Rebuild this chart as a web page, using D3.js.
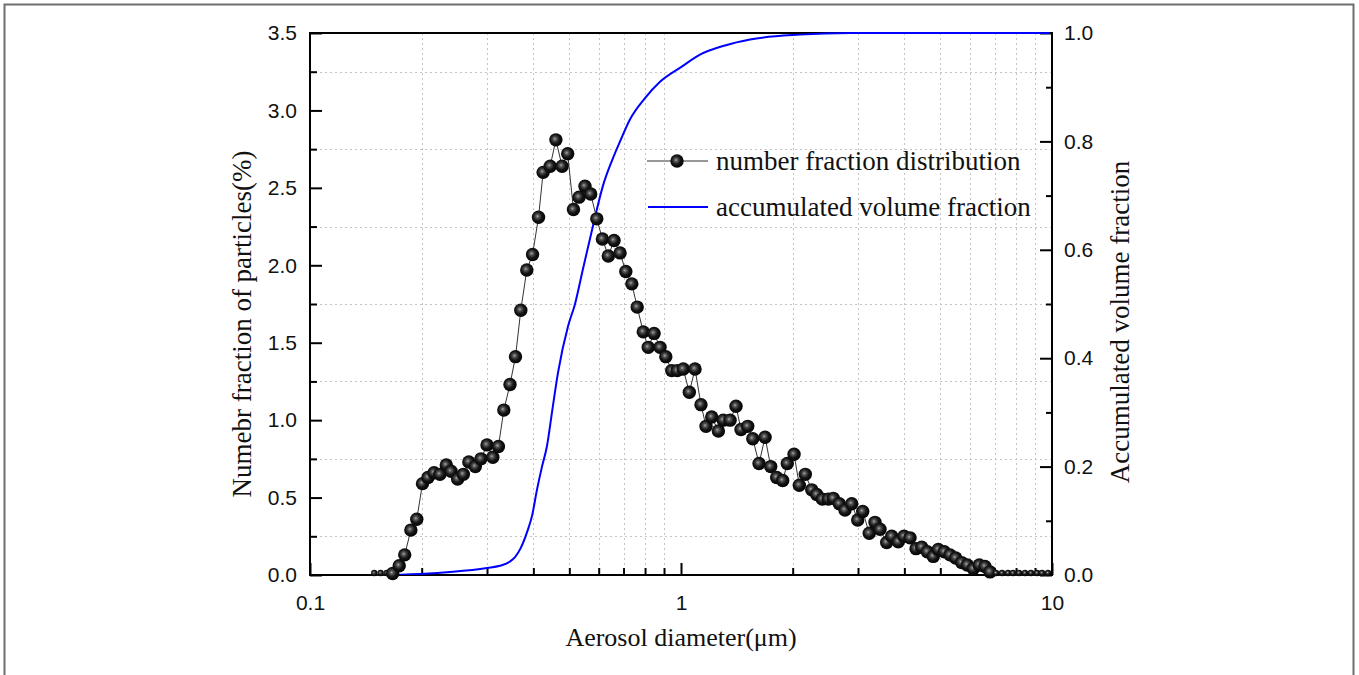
<!DOCTYPE html>
<html>
<head>
<meta charset="utf-8">
<script src="https://cdn.jsdelivr.net/npm/d3@7"></script>
<style>
  body { margin: 0; background: #fff; }
  svg { display: block; }
</style>
</head>
<body>
<div id="chart"></div>
<script>
// number fraction distribution (diameter in um, value in %)
const diameters = [0.149, 0.155, 0.161, 0.167, 0.174, 0.180, 0.187, 0.194, 0.201, 0.208,
  0.216, 0.224, 0.233, 0.240, 0.250, 0.259, 0.268, 0.279, 0.289, 0.300,
  0.311, 0.322, 0.333, 0.346, 0.358, 0.370, 0.384, 0.398, 0.413, 0.425,
  0.444, 0.460, 0.478, 0.495, 0.513, 0.531, 0.551, 0.571, 0.593, 0.614,
  0.637, 0.660, 0.685, 0.710, 0.737, 0.762, 0.791, 0.816, 0.846, 0.878,
  0.910, 0.944, 0.977, 1.014, 1.053, 1.091, 1.132, 1.168, 1.210, 1.261,
  1.300, 1.356, 1.407, 1.451, 1.513, 1.561, 1.623, 1.685, 1.745, 1.811,
  1.880, 1.934, 2.017, 2.084, 2.163, 2.251, 2.322, 2.404, 2.495, 2.573,
  2.671, 2.767, 2.885, 2.994, 3.089, 3.217, 3.333, 3.439, 3.584, 3.698,
  3.852, 3.991, 4.143, 4.300, 4.455, 4.612, 4.787, 4.938, 5.125, 5.310,
  5.501, 5.709, 5.911, 6.136, 6.368, 6.598, 6.806, 7.065, 7.333, 7.611,
  7.851, 8.149, 8.457, 8.777, 9.111, 9.397, 9.755];
const numberFraction = [0, 0, 0, 0.01, 0.06, 0.13, 0.29, 0.36, 0.59, 0.63,
  0.66, 0.65, 0.71, 0.67, 0.62, 0.65, 0.73, 0.70, 0.75, 0.84,
  0.76, 0.83, 1.065, 1.23, 1.41, 1.71, 1.97, 2.07, 2.31, 2.60,
  2.64, 2.81, 2.64, 2.72, 2.36, 2.44, 2.51, 2.46, 2.30, 2.17,
  2.06, 2.16, 2.08, 1.96, 1.88, 1.73, 1.57, 1.47, 1.56, 1.47,
  1.41, 1.32, 1.32, 1.33, 1.18, 1.33, 1.10, 0.96, 1.02, 0.93,
  1.00, 1.00, 1.09, 0.94, 0.96, 0.88, 0.72, 0.89, 0.70, 0.63,
  0.61, 0.72, 0.78, 0.58, 0.65, 0.55, 0.52, 0.49, 0.49, 0.495,
  0.46, 0.42, 0.46, 0.355, 0.41, 0.27, 0.34, 0.295, 0.21, 0.25,
  0.215, 0.25, 0.24, 0.17, 0.18, 0.15, 0.12, 0.165, 0.15, 0.13,
  0.11, 0.08, 0.065, 0.04, 0.065, 0.055, 0.02, 0, 0, 0,
  0, 0, 0, 0, 0, 0, 0];

// accumulated volume fraction
const volDiameters = [0.149, 0.198, 0.243, 0.300, 0.325, 0.346, 0.357, 0.370, 0.385, 0.397,
  0.409, 0.422, 0.435, 0.449, 0.466, 0.496, 0.518, 0.544, 0.579, 0.616,
  0.652, 0.685, 0.729, 0.800, 0.878, 1.0, 1.125, 1.314, 1.535, 2.093, 2.855, 9.877];
const volFraction = [0, 0.002, 0.006, 0.013, 0.017, 0.025, 0.033, 0.05, 0.08, 0.11,
  0.157, 0.2, 0.237, 0.3, 0.373, 0.459, 0.5, 0.564, 0.644, 0.718,
  0.765, 0.80, 0.841, 0.88, 0.91, 0.937, 0.96, 0.977, 0.988, 0.997, 1.0, 1.0];

const xTickLabels = [0.1, 1, 10];
const leftTicks = [0, 0.5, 1.0, 1.5, 2.0, 2.5, 3.0, 3.5];
const rightTicks = [0, 0.2, 0.4, 0.6, 0.8, 1.0];

const W = 1359, H = 675;
const plot = { left: 310, top: 33, right: 1052, bottom: 575 };

const svg = d3.select('#chart').append('svg')
  .attr('width', W)
  .attr('height', H);

// outer frame
svg.append('rect')
  .attr('x', 4.5).attr('y', 4.5)
  .attr('width', 1349).attr('height', 700)
  .attr('fill', 'none')
  .attr('stroke', '#6e6e6e')
  .attr('stroke-width', 2);

const x = d3.scaleLog().domain([0.1, 10]).range([plot.left, plot.right]);
const yL = d3.scaleLinear().domain([0, 3.5]).range([plot.bottom, plot.top]);
const yR = d3.scaleLinear().domain([0, 1]).range([plot.bottom, plot.top]);

const minorX = [];
[0.1, 1].forEach(b => { for (let k = 2; k <= 9; k++) minorX.push(b * k); });
const minorL = d3.range(0.25, 3.5, 0.5);
const minorR = d3.range(0.1, 1, 0.2);

const defs = svg.append('defs');
defs.append('clipPath').attr('id', 'clip')
  .append('rect')
  .attr('x', plot.left).attr('y', plot.top - 10)
  .attr('width', plot.right - plot.left)
  .attr('height', plot.bottom - plot.top + 10);

const grad = defs.append('radialGradient')
  .attr('id', 'ball')
  .attr('cx', '45%').attr('cy', '45%').attr('r', '60%')
  .attr('fx', '42%').attr('fy', '42%');
grad.append('stop').attr('offset', '0%').attr('stop-color', '#a8a8a8');
grad.append('stop').attr('offset', '22%').attr('stop-color', '#555');
grad.append('stop').attr('offset', '55%').attr('stop-color', '#151515');
grad.append('stop').attr('offset', '100%').attr('stop-color', '#000');

// grid
const grid = svg.append('g').attr('stroke', '#c4c4c4')
  .attr('stroke-width', 1).attr('stroke-dasharray', '2,3');
grid.selectAll('.gx').data(minorX).enter().append('line')
  .attr('x1', d => Math.round(x(d)) + 0.5).attr('x2', d => Math.round(x(d)) + 0.5)
  .attr('y1', plot.top).attr('y2', plot.bottom);
grid.selectAll('.gy').data(minorL).enter().append('line')
  .attr('y1', d => Math.round(yL(d)) + 0.5).attr('y2', d => Math.round(yL(d)) + 0.5)
  .attr('x1', plot.left).attr('x2', plot.right);

// axes
const tickFont = '"Liberation Sans", Arial, sans-serif';
const serif = '"Liberation Serif", "Times New Roman", serif';

const axisB = svg.append('g').attr('transform', `translate(0,${plot.bottom})`)
  .call(d3.axisTop(x).tickValues(xTickLabels).tickSize(12).tickFormat(d3.format('')));
svg.append('g').attr('transform', `translate(0,${plot.bottom})`)
  .call(d3.axisTop(x).tickValues(minorX).tickSize(7).tickFormat(''));
axisB.selectAll('.tick text').attr('y', 20).attr('dy', '0.71em');

const axisL = svg.append('g').attr('transform', `translate(${plot.left},0)`)
  .call(d3.axisRight(yL).tickValues(leftTicks).tickSize(12).tickFormat(d3.format('.1f')));
svg.append('g').attr('transform', `translate(${plot.left},0)`)
  .call(d3.axisRight(yL).tickValues(minorL).tickSize(7).tickFormat(''));
axisL.selectAll('.tick text').attr('x', -13).attr('text-anchor', 'end');

const axisR = svg.append('g').attr('transform', `translate(${plot.right},0)`)
  .call(d3.axisLeft(yR).tickValues(rightTicks).tickSize(12).tickFormat(d3.format('.1f')));
svg.append('g').attr('transform', `translate(${plot.right},0)`)
  .call(d3.axisLeft(yR).tickValues(minorR).tickSize(6).tickFormat(''));
axisR.selectAll('.tick text').attr('x', 12).attr('text-anchor', 'start');

svg.selectAll('.domain').remove();
svg.selectAll('.tick line').attr('stroke', '#000').attr('stroke-width', 2);
svg.selectAll('.tick text').attr('fill', '#111')
  .style('font-family', tickFont).style('font-size', '21px');

// frame of plot
svg.append('rect')
  .attr('x', plot.left).attr('y', plot.top)
  .attr('width', plot.right - plot.left).attr('height', plot.bottom - plot.top)
  .attr('fill', 'none').attr('stroke', '#000').attr('stroke-width', 2);

// accumulated volume fraction line
const vol = volDiameters.map((d, i) => ({ d, v: volFraction[i] }));
svg.append('path')
  .datum(vol)
  .attr('clip-path', 'url(#clip)')
  .attr('fill', 'none')
  .attr('stroke', '#0000ff')
  .attr('stroke-width', 2)
  .attr('d', d3.line().x(p => x(p.d)).y(p => yR(p.v)).curve(d3.curveMonotoneX));

// number fraction line + markers
const num = diameters.map((d, i) => ({ d, v: numberFraction[i] }));
svg.append('path')
  .datum(num)
  .attr('fill', 'none')
  .attr('stroke', '#333')
  .attr('stroke-width', 1)
  .attr('d', d3.line().x(p => x(p.d)).y(p => yL(p.v)));

svg.append('g').selectAll('circle')
  .data(num)
  .enter()
  .append('circle')
  .attr('cx', p => x(p.d))
  .attr('cy', p => yL(p.v) - (p.v > 0.005 ? 0 : 2))
  .attr('r', p => p.v > 0.005 ? 6.7 : 3.2)
  .attr('fill', 'url(#ball)');

// legend
const legend = svg.append('g').attr('transform', 'translate(647,0)');
legend.append('line').attr('x1', 0).attr('x2', 61).attr('y1', 161).attr('y2', 161)
  .attr('stroke', '#333').attr('stroke-width', 1);
legend.append('circle').attr('cx', 30).attr('cy', 161).attr('r', 6.7).attr('fill', 'url(#ball)');
legend.append('line').attr('x1', 1).attr('x2', 61).attr('y1', 207).attr('y2', 207)
  .attr('stroke', '#0000ff').attr('stroke-width', 2);
legend.selectAll('text')
  .data(['number fraction distribution', 'accumulated volume fraction'])
  .enter()
  .append('text')
  .attr('x', 69)
  .attr('y', (d, i) => 170 + i * 46)
  .style('font-family', serif)
  .style('font-size', '27px')
  .attr('fill', '#111')
  .text(d => d);

// axis titles
svg.append('text')
  .attr('x', (plot.left + plot.right) / 2).attr('y', 646)
  .attr('text-anchor', 'middle')
  .style('font-family', serif).style('font-size', '26px').attr('fill', '#111')
  .text('Aerosol diameter(μm)');

svg.append('text')
  .attr('transform', `translate(251,${(plot.top + plot.bottom) / 2 + 20}) rotate(-90)`)
  .attr('text-anchor', 'middle')
  .style('font-family', serif).style('font-size', '27px').attr('fill', '#111')
  .text('Numebr fraction of particles(%)');

svg.append('text')
  .attr('transform', `translate(1129,${(plot.top + plot.bottom) / 2 + 18}) rotate(-90)`)
  .attr('text-anchor', 'middle')
  .style('font-family', serif).style('font-size', '27px').attr('fill', '#111')
  .text('Accumulated volume fraction');
</script>
</body>
</html>
